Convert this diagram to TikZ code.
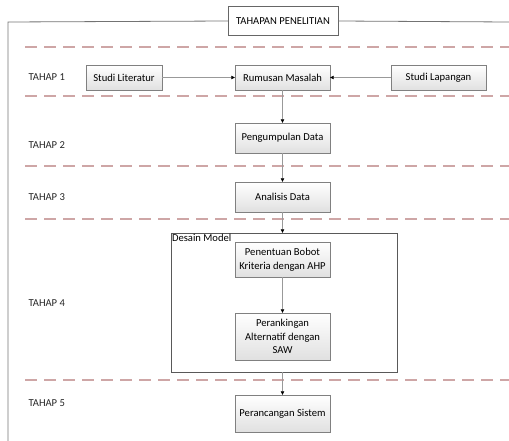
\documentclass[tikz,border=0pt]{standalone}
\usepackage{fontspec}
\setmainfont{Carlito}
\usepackage{tikz}
\usetikzlibrary{arrows.meta,positioning,calc,shadings}

\begin{document}
\begin{tikzpicture}[
    x=1pt, y=-1pt,
    font=\fontsize{10.6}{13.5}\selectfont,
    box/.style={draw=black!50, rectangle, top color=white, bottom color=black!12, align=center, minimum width=95pt, inner sep=2pt},
    titlebox/.style={draw=black!60, rectangle, fill=white, minimum width=110pt, minimum height=29pt},
    sep/.style={draw=red!45!black!35, line width=1.2pt, dash pattern=on 12pt off 7pt},
    link/.style={draw=black!40, line width=0.5pt, -{Triangle[length=3.5pt,width=3.5pt,black]}},
    stage/.style={anchor=west, text=black!85}
]
    \useasboundingbox (0,0) rectangle (509,441);

    % frame
    \node[titlebox] (title) at (283,21) {TAHAPAN PENELITIAN};
    \coordinate (frameTL) at (8,22);
    \coordinate (frameTR) at (509,22);
    \coordinate (frameBL) at (8,441);
    \draw[black!55, line width=0.8pt] (title.west) -- (frameTL) -- (frameBL);
    \draw[black!55, line width=0.8pt] (title.east) -- (frameTR);

    % separators
    \foreach \y in {47,96,166,219,380}
        \draw[sep] (25,\y) -- (509,\y);

    % stages
    \node[stage] (t1) at (25,77)  {TAHAP 1};
    \node[stage] (t2) at (25,145) {TAHAP 2};
    \node[stage] (t3) at (25,197) {TAHAP 3};
    \node[stage] (t4) at (25,303) {TAHAP 4};
    \node[stage] (t5) at (25,403) {TAHAP 5};

    \node[box, minimum height=25pt] (rumusan) at (282.5,77.5) {Rumusan Masalah};
    \node[box, minimum height=25pt, minimum width=76pt] (literatur) at (124,77.5) {Studi Literatur};
    \node[box, minimum height=25pt] (lapangan) at (438.5,77.5) {Studi Lapangan};
    \node[box, minimum height=30pt] (pengumpulan) at (282.5,138) {Pengumpulan Data};
    \node[box, minimum height=30pt] (analisis) at (282.5,197) {Analisis Data};

    \node[draw=black!65, rectangle, minimum width=226pt, minimum height=139pt] (desain) at (284,302.5) {};
    \node[anchor=north west, inner sep=1pt] (desainlabel) at (desain.north west) {Desain Model};
    \node[box, minimum height=35pt] (bobot) at (282.5,259.5) {Penentuan Bobot\\Kriteria dengan AHP};
    \node[box, minimum height=47pt] (ranking) at (282.5,336.5) {Perankingan\\Alternatif dengan\\SAW};

    \node[box, minimum height=37pt] (sistem) at (282.5,413.5) {Perancangan Sistem};

    \draw[link] (literatur) -- (rumusan);
    \draw[link] (lapangan) -- (rumusan);
    \draw[link] (rumusan) -- (pengumpulan);
    \draw[link] (pengumpulan) -- (analisis);
    \draw[link] (analisis) -- (analisis |- desain.north);
    \draw[link] (bobot) -- (ranking);
    \draw[link] (desain.south -| sistem.north) -- (sistem);
\end{tikzpicture}
\end{document}
